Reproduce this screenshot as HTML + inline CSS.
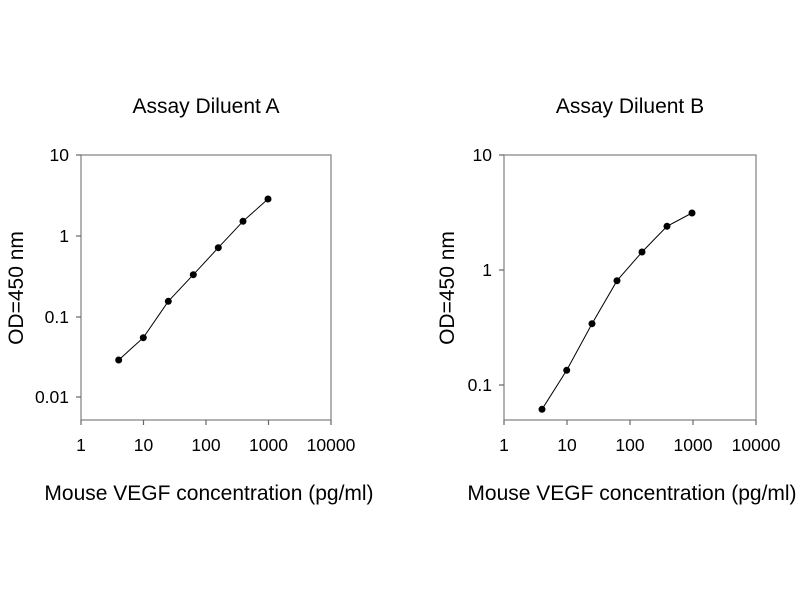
<!DOCTYPE html>
<html><head><style>body{margin:0;background:#fff}</style></head><body>
<svg width="800" height="600" xmlns="http://www.w3.org/2000/svg" font-family="Liberation Sans, sans-serif" fill="#000">
<rect width="800" height="600" fill="#fff"/>
<!-- Left -->
<text x="206" y="113" font-size="21" text-anchor="middle">Assay Diluent A</text>
<rect x="81" y="155" width="250" height="265" fill="none" stroke="#888" stroke-width="1.3"/>
<g stroke="#666" stroke-width="1.2">
<line x1="76" y1="155" x2="81" y2="155"/><line x1="76" y1="236" x2="81" y2="236"/><line x1="76" y1="317" x2="81" y2="317"/><line x1="76" y1="397" x2="81" y2="397"/>
<line x1="81" y1="420" x2="81" y2="425"/><line x1="143.5" y1="420" x2="143.5" y2="425"/><line x1="206" y1="420" x2="206" y2="425"/><line x1="268.5" y1="420" x2="268.5" y2="425"/><line x1="331" y1="420" x2="331" y2="425"/>
</g>
<g font-size="17.5" text-anchor="end"><text x="69" y="161">10</text><text x="69" y="242">1</text><text x="69" y="323">0.1</text><text x="69" y="403">0.01</text></g>
<g font-size="17.5" text-anchor="middle"><text x="81" y="451">1</text><text x="143.5" y="451">10</text><text x="206" y="451">100</text><text x="268.5" y="451">1000</text><text x="331" y="451">10000</text></g>
<text transform="translate(23,288) rotate(-90)" font-size="21" text-anchor="middle">OD=450 nm</text>
<text x="209" y="500" font-size="21" text-anchor="middle">Mouse VEGF concentration (pg/ml)</text>
<polyline points="118.7,360 143.3,337.7 168.3,301.3 193.3,274.7 218.3,247.7 243,221.3 268,199" fill="none" stroke="#000" stroke-width="1"/>
<g><circle cx="118.7" cy="360" r="3.5"/><circle cx="143.3" cy="337.7" r="3.5"/><circle cx="168.3" cy="301.3" r="3.5"/><circle cx="193.3" cy="274.7" r="3.5"/><circle cx="218.3" cy="247.7" r="3.5"/><circle cx="243" cy="221.3" r="3.5"/><circle cx="268" cy="199" r="3.5"/></g>
<!-- Right -->
<text x="630" y="113" font-size="21" text-anchor="middle">Assay Diluent B</text>
<rect x="504" y="155" width="252" height="265" fill="none" stroke="#888" stroke-width="1.3"/>
<g stroke="#666" stroke-width="1.2">
<line x1="499" y1="155" x2="504" y2="155"/><line x1="499" y1="270" x2="504" y2="270"/><line x1="499" y1="385" x2="504" y2="385"/>
<line x1="504" y1="420" x2="504" y2="425"/><line x1="567" y1="420" x2="567" y2="425"/><line x1="630" y1="420" x2="630" y2="425"/><line x1="693" y1="420" x2="693" y2="425"/><line x1="756" y1="420" x2="756" y2="425"/>
</g>
<g font-size="17.5" text-anchor="end"><text x="492" y="161">10</text><text x="492" y="276">1</text><text x="492" y="391">0.1</text></g>
<g font-size="17.5" text-anchor="middle"><text x="504" y="451">1</text><text x="567" y="451">10</text><text x="630" y="451">100</text><text x="693" y="451">1000</text><text x="756" y="451">10000</text></g>
<text transform="translate(454,288) rotate(-90)" font-size="21" text-anchor="middle">OD=450 nm</text>
<text x="632" y="500" font-size="21" text-anchor="middle">Mouse VEGF concentration (pg/ml)</text>
<polyline points="542,409.3 566.7,370.3 592,323.7 617,280.7 642,252 667,226.3 692,213" fill="none" stroke="#000" stroke-width="1"/>
<g><circle cx="542" cy="409.3" r="3.5"/><circle cx="566.7" cy="370.3" r="3.5"/><circle cx="592" cy="323.7" r="3.5"/><circle cx="617" cy="280.7" r="3.5"/><circle cx="642" cy="252" r="3.5"/><circle cx="667" cy="226.3" r="3.5"/><circle cx="692" cy="213" r="3.5"/></g>
</svg>
</body></html>
